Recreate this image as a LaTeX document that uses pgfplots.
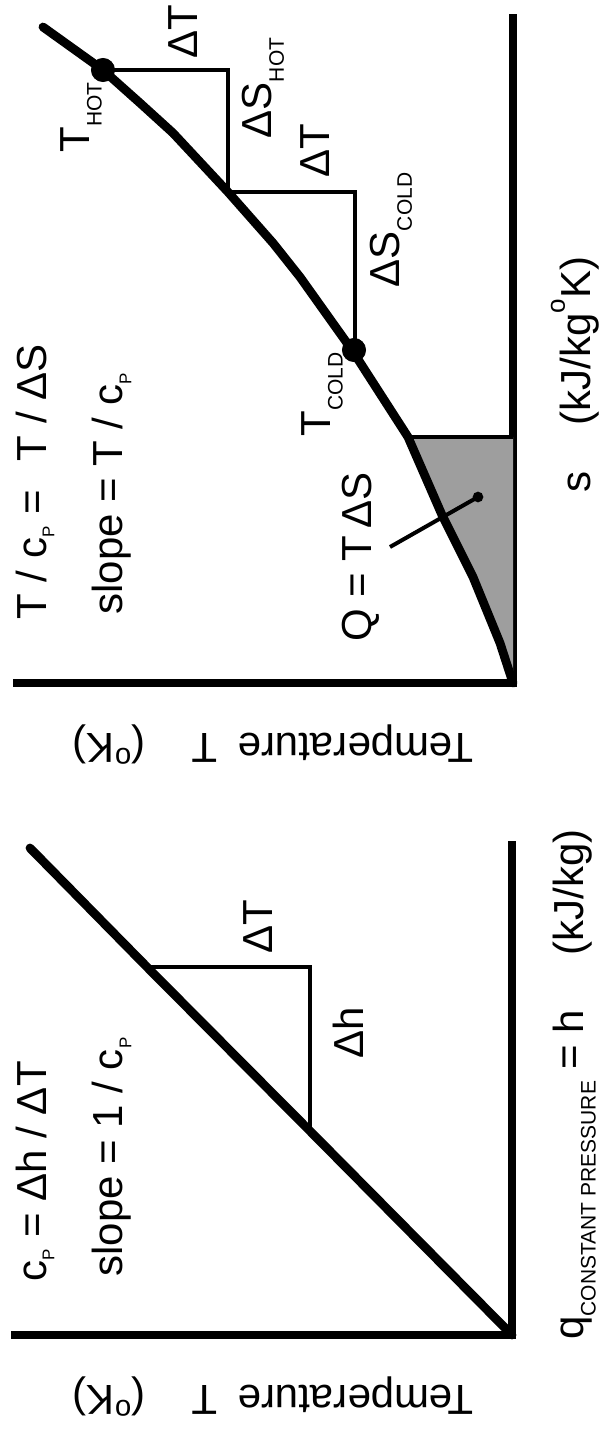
\documentclass[border=0pt]{standalone}
\usepackage{fontspec}
\setmainfont{Liberation Sans}
\usepackage{pgfplots}
\pgfplotsset{compat=1.18}

% small lowered labels (HOT, COLD, CONSTANT PRESSURE) and the small P of c_P
\newcommand{\sub}[1]{\raisebox{-0.3em}{\fontsize{10.5}{11}\selectfont #1}}
\newcommand{\subp}{\raisebox{-0.2em}{\fontsize{8.5}{9}\selectfont P}}

\pgfplotsset{
  schematic/.style={
    scale only axis,
    x dir=reverse,
    axis x line=bottom, axis y line=right,
    axis line style={-, line width=4pt, line cap=rect},
    xtick=\empty, ytick=\empty,
    xmin=0, ymin=0,
    clip=false,
  },
}
\tikzset{lbl/.style={font=\fontsize{21}{24}\selectfont, inner sep=0pt}}

\begin{document}
\begin{tikzpicture}
\path[use as bounding box] (0pt,0pt) rectangle (300.5pt,-714.5pt);

% ---- T-s diagram (top) ----
\begin{axis}[schematic, at={(256.5pt,-341.5pt)}, anchor=south east,
  width=248pt, height=332.5pt, xmax=496, ymax=665]
  \addplot[fill=black!38, draw=none]
    coordinates {(105,246) (71,168) (40,106) (13,40) (0,0) (0,246)} -- cycle;
  \addplot[line width=2pt] coordinates {(105,246) (0,246)};
  \addplot[line width=4.4pt, line join=round, line cap=round] coordinates {
    (470,656) (410,613) (373,580) (340,550) (285,491) (240,440) (213,406)
    (161,333) (105,246) (71,168) (40,106) (13,40) (0,0)};
  \addplot[line width=2pt] coordinates {
    (410,613) (285,613) (285,491) (158,491) (158,333)};
  \addplot[only marks, mark=*, mark size=5.8pt] coordinates {(410,613) (159,333)};
  \addplot[line width=2pt, mark=*, mark size=1.6pt, mark indices={2}]
    coordinates {(123,136) (35,186)};

  \node[lbl, rotate=90, anchor=west] at (axis cs:478,63) {T / c\subp{} =\hspace{0.7em}T / ΔS};
  \node[lbl, rotate=90, anchor=west] at (axis cs:401,68) {slope = T / c\subp};
  \node[lbl, rotate=90, anchor=west] at (axis cs:152,41) {Q = T\,ΔS};
  \node[lbl, rotate=90, anchor=west] at (axis cs:432,530) {T\sub{HOT}};
  \node[lbl, rotate=90, anchor=west] at (axis cs:191,246) {T\sub{COLD}};
  \node[lbl, rotate=90] at (axis cs:330,651) {ΔT};
  \node[lbl, rotate=90] at (axis cs:250,595) {ΔS\sub{HOT}};
  \node[lbl, rotate=90] at (axis cs:198,532) {ΔT};
  \node[lbl, rotate=90] at (axis cs:122,453) {ΔS\sub{COLD}};
  \node[lbl, rotate=90, anchor=base west] at (axis cs:-77,190)
    {s\hspace{1.1em}(kJ/kg\raisebox{0.6em}{\fontsize{13}{13}\selectfont o}K)};
  \node[lbl, rotate=180] at (axis cs:240,-62)
    {Temperature\hspace{0.5em}T\hspace{1.1em}(\textsuperscript{o}K)};
\end{axis}

% ---- T-h diagram (bottom) ----
\begin{axis}[schematic, at={(256pt,-667.5pt)}, anchor=south east,
  width=248.5pt, height=245pt, xmax=497, ymax=490]
  \addplot[line width=4.4pt, line cap=round] coordinates {
    (0,0) (202,204) (365,368) (482,487)};
  \addplot[line width=2pt] coordinates {(365,368) (202,368) (202,204)};

  \node[lbl, rotate=90, anchor=west] at (axis cs:477,53) {c\subp{} = Δh / ΔT};
  \node[lbl, rotate=90, anchor=west] at (axis cs:400,58) {slope = 1 / c\subp};
  \node[lbl, rotate=90] at (axis cs:254,408) {ΔT};
  \node[lbl, rotate=90] at (axis cs:164,302) {Δh};
  \node[lbl, rotate=90, anchor=base west] at (axis cs:-71,-5)
    {q\sub{CONSTANT PRESSURE} = h\hspace{1.3em}(kJ/kg)};
  \node[lbl, rotate=180] at (axis cs:239,-62)
    {Temperature\hspace{0.5em}T\hspace{1.1em}(\textsuperscript{o}K)};
\end{axis}
\end{tikzpicture}
\end{document}
